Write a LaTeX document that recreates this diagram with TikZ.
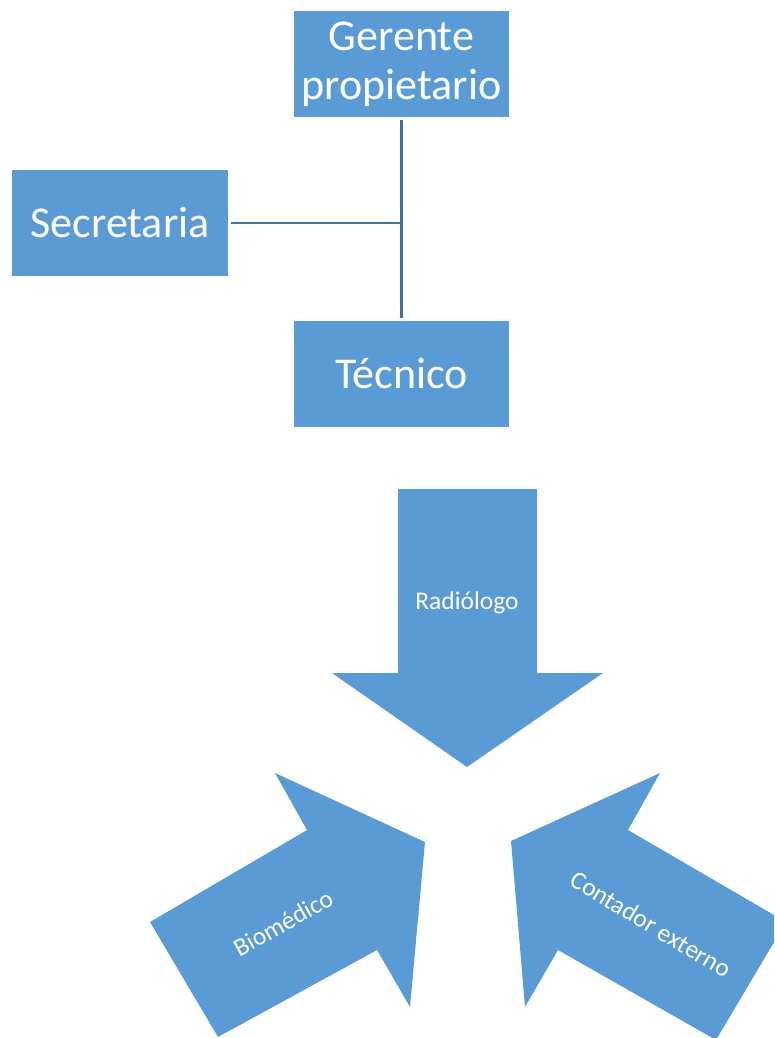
\documentclass[tikz,border=0pt]{standalone}
\usepackage{fontspec}
\setmainfont{Carlito}
\definecolor{boxblue}{RGB}{91,155,213}
\definecolor{linkblue}{RGB}{65,113,156}
\tikzset{
  orgbox/.style={fill=boxblue, draw=none, minimum width=215pt, minimum height=106pt, inner sep=0pt,
    text=white, font=\fontsize{44}{49}\selectfont, align=center},
  link/.style={draw=linkblue, line width=2.5pt},
  bigarrow/.style={fill=boxblue, draw=none},
  arrowtext/.style={text=white, font=\fontsize{25.5}{30}\selectfont, inner sep=0pt}
}
\begin{document}
\begin{tikzpicture}[x=1pt,y=-1pt]
\useasboundingbox (0,0) rectangle (774,1038);
\clip (0,0) rectangle (774,1038);
% org chart
\node[orgbox] (ger) at (401.5,64) {Gerente\\propietario};
\node[orgbox, minimum width=216pt] (sec) at (120,223) {Secretaria};
\node[orgbox] (tec) at (401.5,374) {Técnico};
\draw[link, shorten <=3pt, shorten >=3pt] (ger.south) -- (tec.north);
\coordinate (junc) at (ger.south |- sec.east);
\draw[link, shorten <=3pt] (sec.east) -- (junc);
% Radiologo arrow
\fill[bigarrow] (398,489) -- (537,489) -- (537,673) -- (603,673) -- (467,767) -- (332,673) -- (398,673) -- cycle;
\node[arrowtext] (rad) at (467,603) {Radiólogo};
% Biomedico arrow
\fill[bigarrow] (150,922) -- (307,830) -- (275,773) -- (425,842) -- (410,1007) -- (377,950) -- (218,1037) -- cycle;
\node[arrowtext, rotate=29.5] (bio) at (283,923) {Biomédico};
% Contador arrow
\fill[bigarrow] (786,922) -- (628,830) -- (660,773) -- (511,841) -- (525,1007) -- (558,950) -- (716,1040) -- cycle;
\node[arrowtext, rotate=-31] (con) at (651,924) {Contador externo};
\end{tikzpicture}
\end{document}
